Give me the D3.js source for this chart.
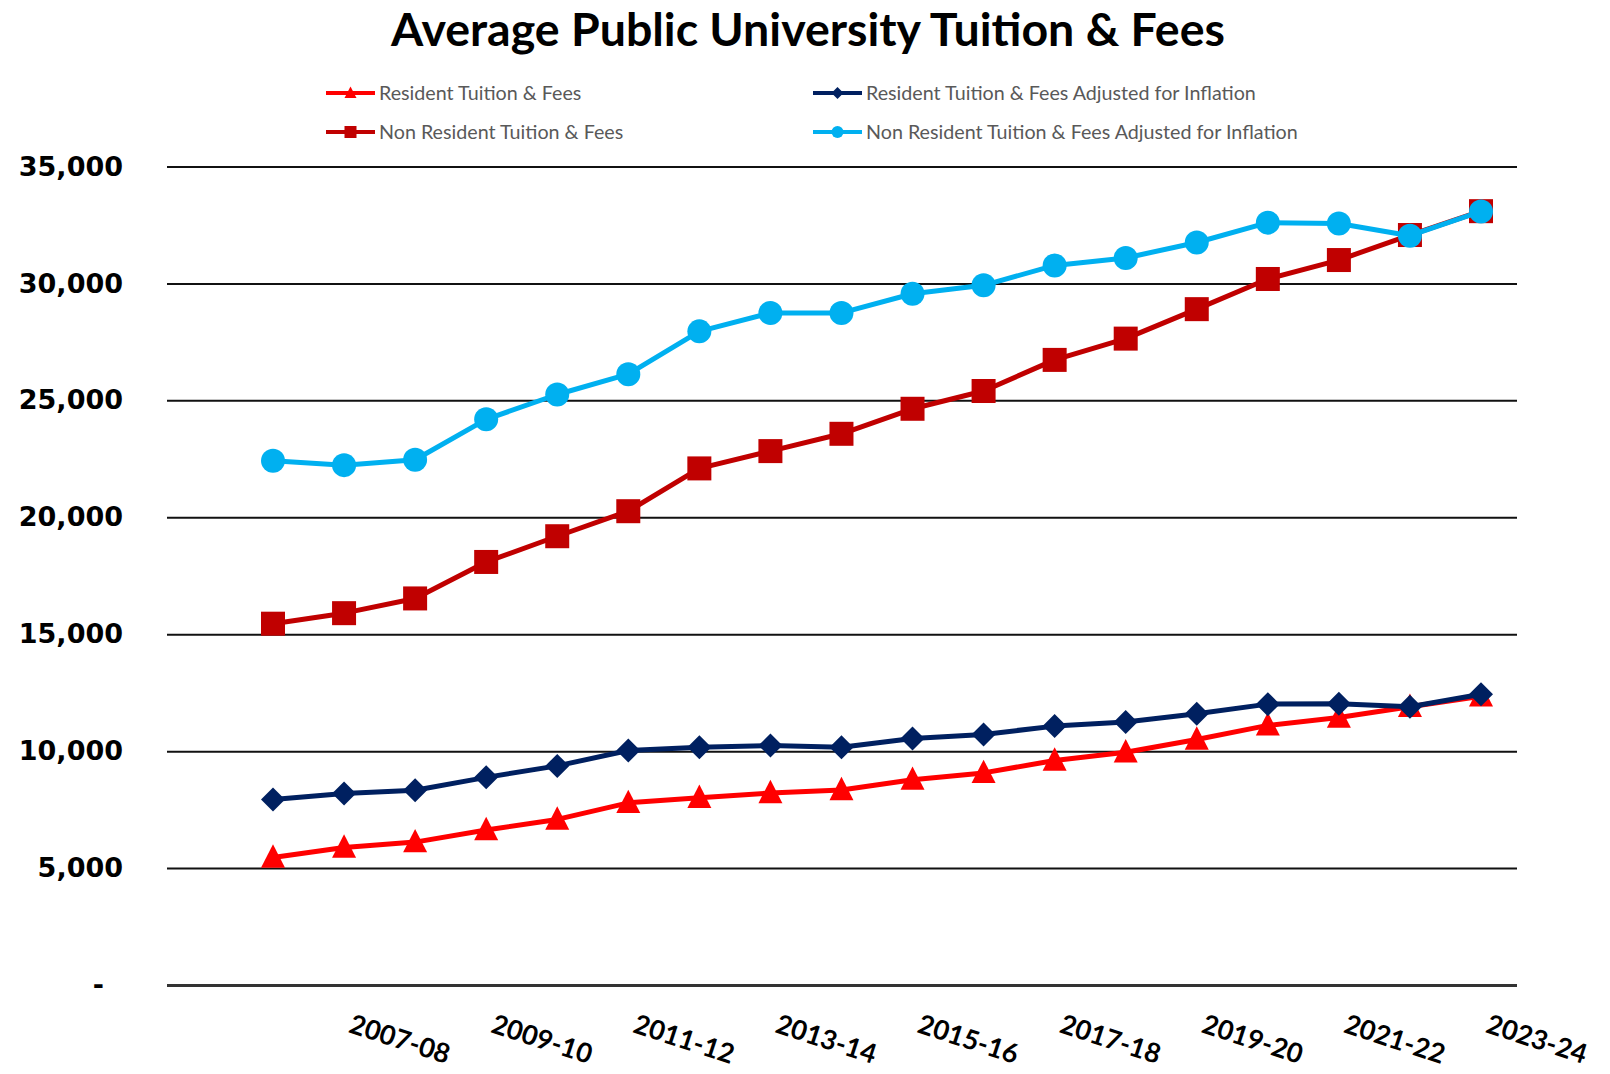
<!DOCTYPE html>
<html>
<head>
<meta charset="utf-8">
<script src="https://cdn.jsdelivr.net/npm/d3@7"></script>
<style>
  body { margin: 0; background: #fff; }
  #chart { width: 1610px; height: 1074px; }
</style>
</head>
<body>
<div id="chart"></div>
<script>
var width = 1610,
  height = 1074;

// school years, one point each
const years = ['2006-07', '2007-08', '2008-09', '2009-10', '2010-11', '2011-12',
  '2012-13', '2013-14', '2014-15', '2015-16', '2016-17', '2017-18', '2018-19',
  '2019-20', '2020-21', '2021-22', '2022-23', '2023-24']

const resident = [5450, 5880, 6110, 6630, 7080, 7790, 8010, 8210, 8340, 8780,
  9070, 9600, 9950, 10500, 11100, 11440, 11900, 12350]
const residentAdj = [7930, 8190, 8330, 8880, 9370, 10030, 10170, 10240, 10170, 10540,
  10715, 11070, 11250, 11600, 12010, 12030, 11900, 12430]
const nonResident = [15450, 15900, 16530, 18090, 19190, 20260, 22090, 22830, 23570, 24640,
  25400, 26730, 27640, 28900, 30190, 31000, 32070, 33090]
const nonResidentAdj = [22420, 22230, 22460, 24190, 25250, 26120, 27950, 28740, 28740, 29560,
  29920, 30770, 31090, 31750, 32600, 32560, 32040, 33080]

const yTicks = [0, 5000, 10000, 15000, 20000, 25000, 30000, 35000]

// series in excel order (later ones draw on top)
const series = [
  { name: 'Resident Tuition & Fees', values: resident, color: '#ff0000', marker: 'triangle' },
  { name: 'Resident Tuition & Fees Adjusted for Inflation', values: residentAdj, color: '#002060', marker: 'diamond' },
  { name: 'Non Resident Tuition & Fees', values: nonResident, color: '#c00000', marker: 'square' },
  { name: 'Non Resident Tuition & Fees Adjusted for Inflation', values: nonResidentAdj, color: '#00b0f0', marker: 'circle' }
]

var plotLeft = 167, plotRight = 1517

var x = d3.scalePoint()
  .domain(years)
  .range([273, 1481])

var y = d3.scaleLinear()
  .domain([0, 35000])
  .range([985, 166.5])

var svg = d3.select("#chart").append("svg")
  .attr("width", width)
  .attr("height", height)
  .attr("viewBox", "0 0 " + width + " " + height)

// title
svg.append("text")
  .attr("x", 808)
  .attr("y", 46)
  .attr("text-anchor", "middle")
  .style("font-family", "Lato, 'Open Sans', sans-serif")
  .style("font-weight", "bold")
  .style("font-size", "46.5px")
  .style("fill", "#000")
  .text("Average Public University Tuition & Fees")

// y axis + gridlines
var yAxis = svg.append("g")
  .attr("transform", "translate(" + plotLeft + ",0)")
  .call(d3.axisLeft(y)
    .tickValues(yTicks)
    .tickSize(-(plotRight - plotLeft))
    .tickPadding(44)
    .tickFormat(d => d === 0 ? '-' : d3.format(",")(d)))

yAxis.select(".domain").remove()
yAxis.selectAll(".tick line")
  .attr("stroke", "#111")
  .attr("stroke-width", 2)
yAxis.selectAll(".tick")
  .filter(d => d === 0)
  .select("line")
  .attr("stroke", "#333")
  .attr("stroke-width", 3)
yAxis.selectAll(".tick text")
  .style("font-family", "'DejaVu Sans', Verdana, sans-serif")
  .style("font-weight", "bold")
  .style("font-size", "27px")
  .style("fill", "#000")
yAxis.selectAll(".tick")
  .filter(d => d === 0)
  .select("text")
  .attr("dx", -19)

// x axis, every other year, slanted
var xAxis = svg.append("g")
  .attr("transform", "translate(0," + y(0) + ")")
  .call(d3.axisBottom(x)
    .tickValues(years.filter((d, i) => i % 2 === 1))
    .tickSize(0))

xAxis.select(".domain").remove()
xAxis.selectAll(".tick text")
  .attr("x", 0)
  .attr("y", 0)
  .attr("dy", 0)
  .attr("text-anchor", "start")
  .attr("transform", "translate(3,47) rotate(18)")
  .style("font-family", "Lato, 'Open Sans', sans-serif")
  .style("font-weight", "bold")
  .style("font-size", "27px")
  .style("fill", "#000")

function drawMarker(sel, type, size, color) {
  var h = size / 2
  if (type === 'circle') {
    sel.append("circle").attr("r", h).attr("fill", color)
  } else if (type === 'square') {
    sel.append("rect").attr("x", -h).attr("y", -h)
      .attr("width", size).attr("height", size).attr("fill", color)
  } else if (type === 'diamond') {
    sel.append("path").attr("d", `M0,${-h}L${h},0L0,${h}L${-h},0Z`).attr("fill", color)
  } else {
    sel.append("path").attr("d", `M0,${-h * 1.1}L${h},${h * 0.85}L${-h},${h * 0.85}Z`).attr("fill", color)
  }
}

var line = d3.line()
  .x((d, i) => x(years[i]))
  .y(d => y(d))

series.forEach(s => {
  var g = svg.append("g")
  g.append("path")
    .datum(s.values)
    .attr("d", line)
    .attr("fill", "none")
    .attr("stroke", s.color)
    .attr("stroke-width", 5)
    .attr("stroke-linejoin", "round")

  g.selectAll("g.pt")
    .data(s.values)
    .enter().append("g")
      .attr("class", "pt")
      .attr("transform", (d, i) => "translate(" + x(years[i]) + "," + y(d) + ")")
      .each(function () {
        drawMarker(d3.select(this), s.marker, 24, s.color)
      })
})

// legend, filled row by row in two columns
var legendCols = [326, 813],
  legendRows = [93, 132]

var legend = svg.append("g")
series.forEach((s, i) => {
  var lx = legendCols[i % 2],
    ly = legendRows[Math.floor(i / 2)]
  var item = legend.append("g")
    .attr("transform", "translate(" + lx + "," + ly + ")")
  item.append("line")
    .attr("x1", 0).attr("x2", 49)
    .attr("stroke", s.color)
    .attr("stroke-width", 4)
  drawMarker(item.append("g").attr("transform", "translate(24.5,0)"), s.marker, 12, s.color)
  item.append("text")
    .attr("x", 53)
    .attr("dy", "0.35em")
    .style("font-family", "Lato, 'Open Sans', sans-serif")
    .style("font-size", "19.7px")
    .style("fill", "#595959")
    .text(s.name)
})
</script>
</body>
</html>
